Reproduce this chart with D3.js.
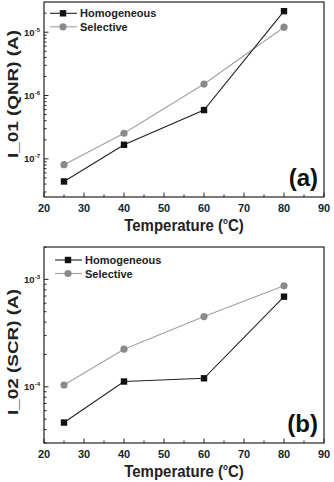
<!DOCTYPE html>
<html>
<head>
<meta charset="utf-8">
<script src="https://cdn.jsdelivr.net/npm/d3@7"></script>
<style>
  body { margin: 0; background: #fff; }
  text { font-family: "Liberation Sans", Arial, sans-serif; font-weight: bold; }
</style>
</head>
<body>
<div id="canvas"></div>
<script>
"use strict"

/* Data */
let temperatures = [25, 40, 60, 80];
let seriesNames = ["Homogeneous", "Selective"];
let qnrHomogeneous = [4.4e-8, 1.67e-7, 5.9e-7, 2.15e-5];
let qnrSelective = [8.1e-8, 2.54e-7, 1.52e-6, 1.2e-5];
let scrHomogeneous = [4.65e-5, 1.12e-4, 1.2e-4, 6.9e-4];
let scrSelective = [1.04e-4, 2.24e-4, 4.5e-4, 8.7e-4];
let xTicks = [20, 30, 40, 50, 60, 70, 80, 90];

/* Drawing config */
let svgWidth = 334;
let svgHeight = 482;
let leftX = 44;
let rightX = 324;

let svg = d3.select("#canvas")
    .append("svg")
    .attr("width", svgWidth)
    .attr("height", svgHeight);

let colors = ["#111111", "#8a8a8a"];
let lineColors = ["#222222", "#a0a0a0"];

function drawPanel(opts) {
    let g = svg.append("g");

    let xScale = d3.scaleLinear()
        .domain([20, 90])
        .range([leftX, rightX]);

    let yScale = d3.scaleLog()
        .domain(opts.yDomain)
        .range([opts.bottom, opts.top]);

    /* frame */
    g.append("rect")
        .attr("x", leftX)
        .attr("y", opts.top)
        .attr("width", rightX - leftX)
        .attr("height", opts.bottom - opts.top)
        .attr("fill", "none")
        .attr("stroke", "#222")
        .attr("stroke-width", 1.2);

    /* x ticks (inward), major + minor */
    for (let v = 25; v < 90; v += 10) {
        g.append("line")
            .attr("x1", xScale(v)).attr("x2", xScale(v))
            .attr("y1", opts.bottom).attr("y2", opts.bottom - 2.5)
            .attr("stroke", "#222");
    }
    xTicks.forEach(function (v) {
        g.append("line")
            .attr("x1", xScale(v)).attr("x2", xScale(v))
            .attr("y1", opts.bottom).attr("y2", opts.bottom - 4.5)
            .attr("stroke", "#222");
        g.append("text")
            .attr("x", xScale(v))
            .attr("y", opts.bottom + 15)
            .attr("text-anchor", "middle")
            .attr("font-size", 11)
            .attr("fill", "#222")
            .text(v);
    });

    /* y ticks (log, inward) */
    let lo = Math.floor(Math.log10(opts.yDomain[0]));
    let hi = Math.ceil(Math.log10(opts.yDomain[1]));
    for (let e = lo; e <= hi; e++) {
        for (let m = 1; m < 10; m++) {
            let v = m * Math.pow(10, e);
            if (v < opts.yDomain[0] || v > opts.yDomain[1]) continue;
            let len = (m == 1) ? 4.5 : 2.5;
            g.append("line")
                .attr("x1", leftX).attr("x2", leftX + len)
                .attr("y1", yScale(v)).attr("y2", yScale(v))
                .attr("stroke", "#222");
            if (m == 1) {
                let t = g.append("text")
                    .attr("x", leftX - 4)
                    .attr("y", yScale(v) + 3.5)
                    .attr("text-anchor", "end")
                    .attr("font-size", 9.5)
                    .attr("fill", "#222");
                t.append("tspan").text("10");
                t.append("tspan")
                    .attr("font-size", 6)
                    .attr("dy", -4)
                    .text(e);
            }
        }
    }

    /* axis titles */
    let xt = g.append("text")
        .attr("transform", "translate(184," + (opts.bottom + 34) + ") scale(1,1.1)")
        .attr("text-anchor", "middle")
        .attr("font-size", 15)
        .attr("fill", "#222");
    xt.append("tspan").text("Temperature (");
    xt.append("tspan").attr("font-size", 8).attr("dy", -6).text("o");
    xt.append("tspan").attr("dy", 6).text("C)");

    /* the picture is stretched vertically, so the rotated title is long */
    g.append("text")
        .attr("transform", "translate(18," + opts.titleY + ") rotate(-90) scale(1.35,1)")
        .attr("text-anchor", "middle")
        .attr("font-size", 14)
        .attr("fill", "#222")
        .text(opts.yTitle);

    /* panel letter */
    g.append("text")
        .attr("x", 318)
        .attr("y", opts.bottom - 11)
        .attr("text-anchor", "end")
        .attr("font-size", 24)
        .attr("fill", "#111")
        .text(opts.letter);

    /* series: selective drawn first, homogeneous on top */
    let line = d3.line()
        .x(function (d, i) { return xScale(temperatures[i]); })
        .y(function (d) { return yScale(d); });

    [1, 0].forEach(function (s) {
        let vals = opts.series[s];
        g.append("path")
            .attr("d", line(vals))
            .attr("fill", "none")
            .attr("stroke", lineColors[s])
            .attr("stroke-width", 1.1);
        vals.forEach(function (d, i) {
            if (s == 0) {
                g.append("rect")
                    .attr("x", xScale(temperatures[i]) - 3.2)
                    .attr("y", yScale(d) - 3.2)
                    .attr("width", 6.4)
                    .attr("height", 6.4)
                    .attr("fill", colors[0]);
            } else {
                g.append("circle")
                    .attr("cx", xScale(temperatures[i]))
                    .attr("cy", yScale(d))
                    .attr("r", 3.6)
                    .attr("fill", colors[1]);
            }
        });
    });

    /* legend */
    for (let s = 0; s < 2; s++) {
        let ly = opts.legendY + s * 13.5;
        g.append("line")
            .attr("x1", opts.legendX - 13).attr("x2", opts.legendX + 14)
            .attr("y1", ly).attr("y2", ly)
            .attr("stroke", lineColors[s])
            .attr("stroke-width", 1.1);
        if (s == 0) {
            g.append("rect")
                .attr("x", opts.legendX - 3.2).attr("y", ly - 3.2)
                .attr("width", 6.4).attr("height", 6.4)
                .attr("fill", colors[0]);
        } else {
            g.append("circle")
                .attr("cx", opts.legendX).attr("cy", ly)
                .attr("r", 3.6)
                .attr("fill", colors[1]);
        }
        g.append("text")
            .attr("x", opts.legendX + 17)
            .attr("y", ly + 4)
            .attr("font-size", 11)
            .attr("fill", "#222")
            .text(seriesNames[s]);
    }
}

/* panel (a) */
drawPanel({
    top: 2,
    bottom: 197,
    yDomain: [2.5e-8, 3e-5],
    series: [qnrHomogeneous, qnrSelective],
    yTitle: "I_01 (QNR) (A)",
    titleY: 94,
    letter: "(a)",
    legendX: 63,
    legendY: 13.3
});

/* panel (b) */
drawPanel({
    top: 247,
    bottom: 443,
    yDomain: [3e-5, 2e-3],
    series: [scrHomogeneous, scrSelective],
    yTitle: "I_02 (SCR) (A)",
    titleY: 352,
    letter: "(b)",
    legendX: 68,
    legendY: 260
});
</script>
</body>
</html>
